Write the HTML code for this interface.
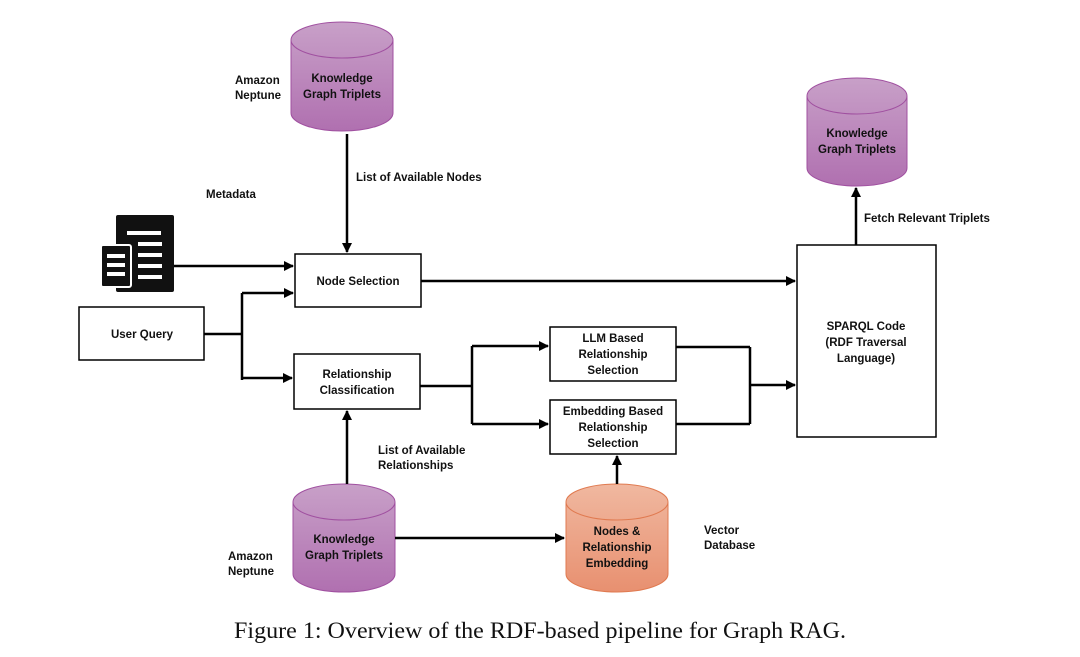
<!DOCTYPE html>
<html><head><style>
body{margin:0;background:#fff;}
svg text{font-family:"Liberation Sans",sans-serif;font-weight:bold;font-size:11.5px;fill:#111;}
</style></head><body>
<svg width="1080" height="652" viewBox="0 0 1080 652" xmlns="http://www.w3.org/2000/svg">
<defs>
<marker id="a" viewBox="0 0 10 10" refX="9" refY="5" markerWidth="4" markerHeight="4" orient="auto"><path d="M0,0L10,5L0,10z" fill="#000"/></marker>
<linearGradient id="p" x1="0" y1="0" x2="0" y2="1"><stop offset="0" stop-color="#c8a0c8"/><stop offset="1" stop-color="#b070b0"/></linearGradient>
<linearGradient id="o" x1="0" y1="0" x2="0" y2="1"><stop offset="0" stop-color="#f0b8a0"/><stop offset="1" stop-color="#e89070"/></linearGradient>
</defs>
<g stroke="#a050a0" stroke-width="1" fill="url(#p)">
<path d="M291,40 A51,18 0 0 1 393,40 L393,113 A51,18 0 0 1 291,113 Z"/><path d="M291,40 A51,18 0 0 0 393,40" fill="none"/>
<path d="M807,96 A50,18 0 0 1 907,96 L907,168 A50,18 0 0 1 807,168 Z"/><path d="M807,96 A50,18 0 0 0 907,96" fill="none"/>
<path d="M293,502 A51,18 0 0 1 395,502 L395,574 A51,18 0 0 1 293,574 Z"/><path d="M293,502 A51,18 0 0 0 395,502" fill="none"/>
</g>
<g stroke="#e07a50" stroke-width="1" fill="url(#o)">
<path d="M566,502 A51,18 0 0 1 668,502 L668,574 A51,18 0 0 1 566,574 Z"/><path d="M566,502 A51,18 0 0 0 668,502" fill="none"/>
</g>
<g fill="#fff" stroke="#000" stroke-width="1.5">
<rect x="295" y="254" width="126" height="53"/>
<rect x="79" y="307" width="125" height="53"/>
<rect x="294" y="354" width="126" height="55"/>
<rect x="550" y="327" width="126" height="54"/>
<rect x="550" y="400" width="126" height="54"/>
<rect x="797" y="245" width="139" height="192"/>
</g>
<rect x="116" y="215" width="58" height="77" rx="2" fill="#111"/>
<g fill="#fff"><rect x="127" y="231" width="34" height="4"/><rect x="138" y="242" width="24" height="4"/><rect x="138" y="253" width="24" height="4"/><rect x="138" y="264" width="24" height="4"/><rect x="138" y="275" width="24" height="4"/></g>
<rect x="101" y="245" width="30" height="42" rx="2" fill="#111" stroke="#fff" stroke-width="2"/>
<g fill="#fff"><rect x="107" y="254" width="18" height="4"/><rect x="107" y="263" width="18" height="4"/><rect x="107" y="272" width="18" height="4"/></g>
<g stroke="#000" stroke-width="2.5" fill="none">
<path d="M347,134V252" marker-end="url(#a)"/>
<path d="M174,266H293" marker-end="url(#a)"/>
<path d="M204,334H242"/><path d="M242,293V380"/>
<path d="M242,293H293" marker-end="url(#a)"/>
<path d="M242,378H292" marker-end="url(#a)"/>
<path d="M421,281H795" marker-end="url(#a)"/>
<path d="M420,386H472"/><path d="M472,346V424"/>
<path d="M472,346H548" marker-end="url(#a)"/>
<path d="M472,424H548" marker-end="url(#a)"/>
<path d="M676,347H750"/><path d="M676,424H750"/><path d="M750,347V424"/>
<path d="M750,385H795" marker-end="url(#a)"/>
<path d="M856,245V188" marker-end="url(#a)"/>
<path d="M347,484V411" marker-end="url(#a)"/>
<path d="M395,538H564" marker-end="url(#a)"/>
<path d="M617,484V456" marker-end="url(#a)"/>
</g>
<g text-anchor="middle">
<text x="342" y="82">Knowledge</text><text x="342" y="98">Graph Triplets</text>
<text x="857" y="137">Knowledge</text><text x="857" y="153">Graph Triplets</text>
<text x="344" y="543">Knowledge</text><text x="344" y="559">Graph Triplets</text>
<text x="617" y="535">Nodes &amp;</text><text x="617" y="551">Relationship</text><text x="617" y="567">Embedding</text>
<text x="358" y="285">Node Selection</text>
<text x="142" y="338">User Query</text>
<text x="357" y="378">Relationship</text><text x="357" y="394">Classification</text>
<text x="613" y="342">LLM Based</text><text x="613" y="358">Relationship</text><text x="613" y="374">Selection</text>
<text x="613" y="415">Embedding Based</text><text x="613" y="431">Relationship</text><text x="613" y="447">Selection</text>
<text x="866" y="330">SPARQL Code</text><text x="866" y="346">(RDF Traversal</text><text x="866" y="362">Language)</text>
</g>
<text x="235" y="84">Amazon</text><text x="235" y="99">Neptune</text>
<text x="228" y="560">Amazon</text><text x="228" y="575">Neptune</text>
<text x="356" y="181">List of Available Nodes</text>
<text x="206" y="198">Metadata</text>
<text x="864" y="222">Fetch Relevant Triplets</text>
<text x="378" y="454">List of Available</text><text x="378" y="469">Relationships</text>
<text x="704" y="534">Vector</text><text x="704" y="549">Database</text>
<text x="234" y="638" textLength="612" lengthAdjust="spacingAndGlyphs" style="font-family:'Liberation Serif',serif;font-weight:normal;font-size:23px;">Figure 1: Overview of the RDF-based pipeline for Graph RAG.</text>
</svg>
</body></html>
